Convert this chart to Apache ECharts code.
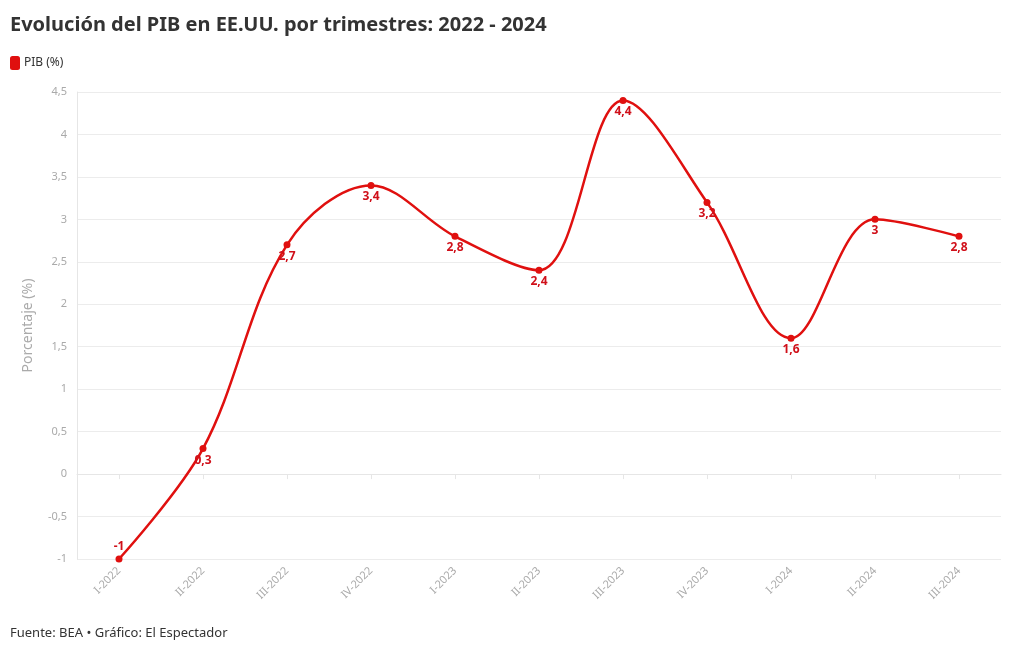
<!DOCTYPE html>
<html><head><meta charset="utf-8">
<script src="https://cdn.jsdelivr.net/npm/echarts@6/dist/echarts.min.js"></script>
<style>html,body{margin:0;padding:0;background:#fff}#c{width:1020px;height:650px}</style>
</head><body><div id="c"></div>
<script>
const categories = ['I-2022','II-2022','III-2022','IV-2022','I-2023','II-2023','III-2023','IV-2023','I-2024','II-2024','III-2024'];
const pibValues = [-1, 0.3, 2.7, 3.4, 2.8, 2.4, 4.4, 3.2, 1.6, 3, 2.8];
const labelAbove = [true, false, false, false, false, false, false, false, false, false, false];
const fmt = v => String(v).replace('.', ',');
const chart = echarts.init(document.getElementById('c'));
const font = '"Source Sans Pro","Noto Sans",sans-serif';
chart.setOption({
  animation: false,
  textStyle: {fontFamily: font},
  title: [{text: 'Evolución del PIB en EE.UU. por trimestres: 2022 - 2024', left: 5, top: 10,
    textStyle: {fontSize: 20, fontWeight: 'bold', color: '#333', fontFamily: font}},
    {text: 'Fuente: BEA • Gráfico: El Espectador', left: 5, top: 622,
    textStyle: {fontSize: 13, fontWeight: 'normal', color: '#333', fontFamily: font}}],
  legend: {left: 5, top: 51, icon: 'roundRect', itemWidth: 10, itemHeight: 14, itemGap: 4,
    textStyle: {fontSize: 12, color: '#333', padding: [0,0,0,-1]}, data: ['PIB (%)']},
  grid: {left: 77, right: 19, top: 92, bottom: 91},
  xAxis: {type: 'category', data: categories, boundaryGap: true,
    axisLine: {lineStyle: {color: '#e6e6e6'}}, axisTick: {show: true, alignWithLabel: true, lineStyle: {color: '#e6e6e6'}},
    axisLabel: {rotate: 45, color: '#aaa', fontSize: 11, margin: 10},
    splitLine: {show: false}},
  yAxis: {type: 'value', min: -1, max: 4.5, interval: 0.5,
    name: 'Porcentaje (%)', nameLocation: 'middle', nameGap: 42, nameRotate: 90,
    nameTextStyle: {color: '#aaa', fontSize: 14},
    axisLine: {show: true, lineStyle: {color: '#e6e6e6'}}, axisTick: {show: false},
    axisLabel: {color: '#aaa', fontSize: 11, margin: 10, formatter: v => fmt(+v.toFixed(1))},
    splitLine: {lineStyle: {color: '#ececec'}}},
  series: [{name: 'PIB (%)', type: 'line', smooth: 0.35, color: '#e0100f',
    lineStyle: {width: 2.5}, symbol: 'circle', symbolSize: 7,
    data: pibValues.map((v, i) => ({value: v, label: {position: labelAbove[i] ? 'top' : 'bottom', distance: labelAbove[i] ? 3 : 2}})),
    label: {show: true, color: '#d0101a', fontWeight: 'bold', fontSize: 12, formatter: p => fmt(p.value)}}]
});
</script></body></html>
